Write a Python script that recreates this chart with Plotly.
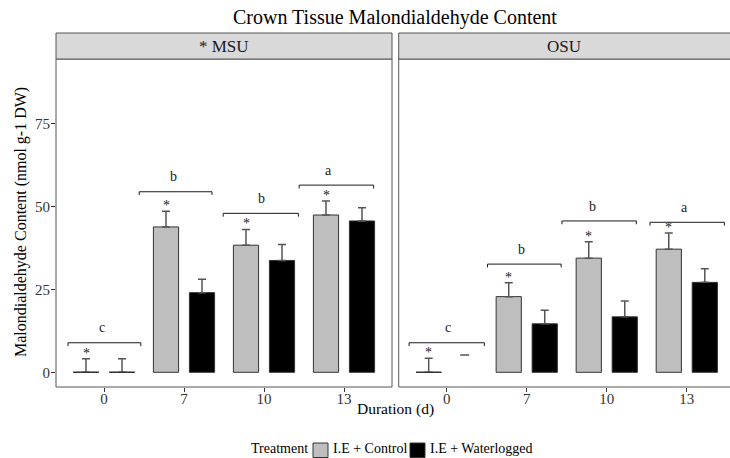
import plotly.graph_objects as go

# ---------------- data ----------------
durations = ["0", "7", "10", "13"]
panels = ["* MSU", "OSU"]
treatments = ["I.E + Control", "I.E + Waterlogged"]

msu_control = [0.0, 43.8, 38.3, 47.4]
msu_control_se = [4.1, 4.7, 4.7, 4.2]
msu_wl = [0.0, 24.0, 33.7, 45.6]
msu_wl_se = [4.1, 4.0, 4.8, 4.0]

osu_control = [0.0, 22.8, 34.4, 37.1]
osu_control_se = [4.2, 4.2, 4.9, 4.9]
osu_wl = [None, 14.6, 16.7, 27.1]
osu_wl_se = [None, 4.1, 4.8, 4.1]
osu_wl_day0_cap = 5.2

# significance of control vs waterlogged (asterisks over control bars)
msu_sig = [True, True, True, True]
osu_sig = [True, True, True, True]

# letter groups per duration and their bracket heights
msu_letters = ["c", "b", "b", "a"]
msu_bracket_y = [8.9, 54.4, 47.9, 56.4]
osu_letters = ["c", "b", "b", "a"]
osu_bracket_y = [8.9, 32.6, 45.6, 45.2]

# ---------------- layout helpers (positions / styles) ----------------
W, H = 730, 458
FONT = "Liberation Serif"
BARGAP, BARGROUPGAP = 0.1, 0.3
SLOT = (1 - BARGAP) / 2
DODGE = SLOT / 2
BARW = SLOT * (1 - BARGROUPGAP)
msu_bracket_x = [(-0.45, 0.46, -0.03), (-0.56, 0.35, -0.13), (-0.51, 0.43, -0.03), (-0.56, 0.37, -0.19)]
osu_bracket_x = [(-0.47, 0.47, 0.02), (-0.49, 0.43, -0.06), (-0.56, 0.37, -0.18), (-0.46, 0.47, -0.03)]

CTRL_FILL = "#bebebe"
WL_FILL = "#000000"
OUTLINE = "#333333"
ERR_COL = "#555555"
TXT = "#1a1a1a"


def px_x(p):
    return p / W


def px_y(p):
    return (H - p) / H


xi = list(range(len(durations)))

fig = go.Figure()
shapes = []
annotations = []


def add_panel(ctrl, ctrl_se, wl, wl_se, xa, ya):
    for vals, se, fill, name, grp, off in [(ctrl, ctrl_se, CTRL_FILL, treatments[0], "c", -DODGE),
                                           (wl, wl_se, WL_FILL, treatments[1], "w", DODGE)]:
        fig.add_trace(go.Bar(
            x=xi, y=vals, name=name, xaxis=xa, yaxis=ya,
            marker=dict(color=fill, line=dict(color=OUTLINE, width=1)),
            error_y=dict(type="data", symmetric=False, array=se,
                         arrayminus=[0] * len(se), color=ERR_COL, thickness=1.5, width=4),
            showlegend=False, offsetgroup=grp))
        # zero-height bars are drawn by ggplot as a flat outline
        for i, v in enumerate(vals):
            if v is not None and v == 0:
                shapes.append(dict(type="line", xref=xa, yref=ya,
                                   x0=i + off - BARW / 2, x1=i + off + BARW / 2, y0=v, y1=v,
                                   line=dict(color=OUTLINE, width=1.2)))


add_panel(msu_control, msu_control_se, msu_wl, msu_wl_se, "x", "y")
add_panel(osu_control, osu_control_se, osu_wl, osu_wl_se, "x2", "y2")

# lone error-bar cap for OSU waterlogged day 0
fig.add_trace(go.Scatter(
    x=[0 + DODGE], y=[osu_wl_day0_cap], xaxis="x2", yaxis="y2", mode="markers",
    marker=dict(symbol="line-ew", size=6.4, line=dict(color=ERR_COL, width=1.5)),
    showlegend=False, hoverinfo="skip"))


def add_marks(ctrl, ctrl_se, sig, letters, by, bx, xref, yref):
    for i in xi:
        if sig[i]:
            top = (ctrl[i] or 0) + (ctrl_se[i] or 0)
            annotations.append(dict(x=i - DODGE, y=top + 1.7, xref=xref, yref=yref,
                                    text="*", showarrow=False, xanchor="center", yanchor="middle",
                                    font=dict(family=FONT, size=14, color=TXT)))
        x0, x1, xt = bx[i]
        y = by[i]
        shapes.append(dict(type="path", xref=xref, yref=yref,
                           path=f"M {i + x0},{y - 1.0} L {i + x0},{y} L {i + x1},{y} L {i + x1},{y - 1.0}",
                           line=dict(color=TXT, width=1)))
        annotations.append(dict(x=i + xt, y=y + 4.5, xref=xref, yref=yref,
                                text=letters[i], showarrow=False, xanchor="center", yanchor="middle",
                                font=dict(family=FONT, size=14, color=TXT)))


add_marks(msu_control, msu_control_se, msu_sig, msu_letters, msu_bracket_y, msu_bracket_x, "x", "y")
add_marks(osu_control, osu_control_se, osu_sig, osu_letters, osu_bracket_y, osu_bracket_x, "x2", "y2")

# panel borders
shapes.append(dict(type="rect", xref="x domain", yref="y domain", x0=0, x1=1, y0=0, y1=1,
                   line=dict(color="#555555", width=1), layer="above"))
shapes.append(dict(type="rect", xref="x2 domain", yref="y2 domain", x0=0, x1=1.02, y0=0, y1=1,
                   line=dict(color="#555555", width=1), layer="above"))
# strips
strip_y0, strip_y1 = px_y(59), px_y(33)
for xr, label, x1 in [("x domain", panels[0], 1.0), ("x2 domain", panels[1], 1.02)]:
    shapes.append(dict(type="rect", xref=xr, yref="paper", x0=0, x1=x1, y0=strip_y0, y1=strip_y1,
                       fillcolor="#d9d9d9", line=dict(color="#555555", width=1)))
    annotations.append(dict(x=0.5, y=(strip_y0 + strip_y1) / 2,
                            xref=xr, yref="paper", text=label, showarrow=False,
                            xanchor="center", yanchor="middle",
                            font=dict(family=FONT, size=17, color=TXT)))

# title and axis titles
annotations.append(dict(x=px_x(395), y=px_y(18), xref="paper", yref="paper",
                        text="Crown Tissue Malondialdehyde Content", showarrow=False,
                        xanchor="center", yanchor="middle",
                        font=dict(family=FONT, size=20, color="#000000")))
annotations.append(dict(x=px_x(21), y=px_y(222), xref="paper", yref="paper", textangle=-90,
                        text="Malondialdehyde Content (nmol g-1 DW)", showarrow=False,
                        xanchor="center", yanchor="middle",
                        font=dict(family=FONT, size=16, color="#000000")))
annotations.append(dict(x=px_x(395), y=px_y(409), xref="paper", yref="paper",
                        text="Duration (d)", showarrow=False,
                        xanchor="center", yanchor="middle",
                        font=dict(family=FONT, size=15.5, color="#000000")))

# legend (drawn manually)
leg_y = px_y(458)
annotations.append(dict(x=px_x(249), y=leg_y, xref="paper", yref="paper",
                        xanchor="left", yanchor="bottom",
                        text="Treatment", showarrow=False,
                        font=dict(family=FONT, size=14, color="#000000")))
for (kx, tx, fill, label) in [(313, 331, CTRL_FILL, treatments[0]), (410, 428, WL_FILL, treatments[1])]:
    shapes.append(dict(type="rect", xref="paper", yref="paper", x0=px_x(kx), x1=px_x(kx + 15),
                       y0=px_y(457.5), y1=px_y(443), fillcolor=fill, line=dict(color=OUTLINE, width=1)))
    annotations.append(dict(x=px_x(tx), y=leg_y, xref="paper", yref="paper",
                            xanchor="left", yanchor="bottom",
                            text=label, showarrow=False,
                            font=dict(family=FONT, size=14, color="#000000")))

tickfont = dict(family=FONT, size=15, color="#333333")
ydom = [px_y(387), px_y(59)]
yr = [-4.43, 94.4]

fig.update_layout(
    width=W, height=H, margin=dict(l=0, r=0, t=0, b=0),
    paper_bgcolor="white", plot_bgcolor="white",
    barmode="group", bargap=BARGAP, bargroupgap=BARGROUPGAP,
    showlegend=False,
    xaxis=dict(domain=[px_x(56), px_x(392)], range=[-0.6, 3.6], tickvals=xi, ticktext=durations,
               ticks="outside", ticklen=4, tickcolor="#333333", tickfont=tickfont,
               ticklabelstandoff=-6,
               showgrid=False, zeroline=False, showline=False, anchor="y"),
    xaxis2=dict(domain=[px_x(398.7), 1.0], range=[-0.6, 3.54], tickvals=xi, ticktext=durations,
                ticks="outside", ticklen=4, tickcolor="#333333", tickfont=tickfont,
                ticklabelstandoff=-6,
                showgrid=False, zeroline=False, showline=False, anchor="y2"),
    yaxis=dict(domain=ydom, range=yr, tickvals=[0, 25, 50, 75], ticks="outside", ticklen=4,
               tickcolor="#333333", tickfont=tickfont, ticklabelstandoff=-2,
               showgrid=False, zeroline=False, showline=False, anchor="x"),
    yaxis2=dict(domain=ydom, range=yr, matches="y", showticklabels=False, ticks="",
                showgrid=False, zeroline=False, showline=False, anchor="x2"),
    shapes=shapes, annotations=annotations,
    font=dict(family=FONT),
)

fig.write_html("out.html")
